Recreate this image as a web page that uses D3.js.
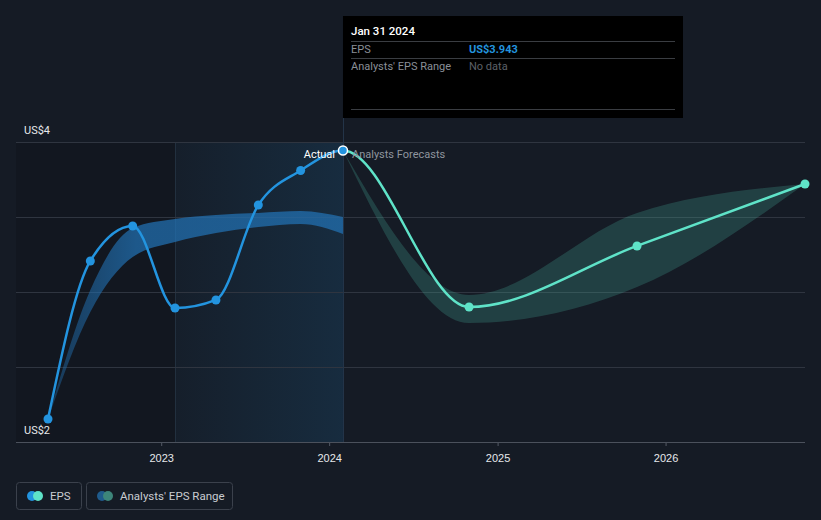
<!DOCTYPE html>
<html><head><meta charset="utf-8">
<script src="https://cdn.jsdelivr.net/npm/d3@7/dist/d3.min.js"></script>
<style>
html,body{margin:0;padding:0;background:#151b25;}
svg{display:block;font-family:Roboto,"Noto Sans",sans-serif;}
</style></head>
<body><svg id="c" width="821" height="520"></svg>
<script>
const actualDates = ["2022-04-30","2022-07-31","2022-10-31","2023-01-31","2023-04-30","2023-07-31","2023-10-31","2024-01-31"];
const actualEps = [2.153, 3.207, 3.44, 2.893, 2.947, 3.58, 3.81, 3.943];
const forecastDates = ["2024-10-31","2025-10-31","2026-10-31"];
const forecastEps = [2.9, 3.307, 3.72];
const pastRangeLow = [2.153, 2.867, 3.233, 3.333, 3.393, 3.433, 3.453, 3.387];
const pastRangeHigh = [2.153, 3.013, 3.427, 3.487, 3.513, 3.527, 3.54, 3.5];
const forecastRangeDates = ["2024-01-31","2024-10-31","2025-10-31","2026-10-31"];
const forecastRangeLow = [3.943, 2.793, 3.033, 3.72];
const forecastRangeHigh = [3.943, 2.98, 3.527, 3.72];
const yTickValues = [2, 4];
const yTickLabels = ["US$2", "US$4"];
const xTickYears = [2023, 2024, 2025, 2026];
const todayDate = "2024-01-31";
const lastYearDate = "2023-01-31";

const parse = d3.utcParse("%Y-%m-%d");
const svg = d3.select("#c");
const W = 821;

const x = d3.scaleUtc().domain([parse(actualDates[0]), parse(forecastDates[forecastDates.length-1])]).range([48, 805]);
const y = d3.scaleLinear().domain([2, 4]).range([442, 142]);

const defs = svg.append("defs");
const hg = defs.append("linearGradient").attr("id","hl").attr("x1","0").attr("x2","1").attr("y1","0").attr("y2","0");
hg.append("stop").attr("offset","0").attr("stop-color","#2394df").attr("stop-opacity",0.03);
hg.append("stop").attr("offset","1").attr("stop-color","#2394df").attr("stop-opacity",0.14);
const bg = defs.append("linearGradient").attr("id","bandBlue").attr("x1","0").attr("x2","1").attr("y1","0").attr("y2","0");
bg.append("stop").attr("offset","0").attr("stop-color","#2274b8").attr("stop-opacity",0.35);
bg.append("stop").attr("offset","0.3").attr("stop-color","#2274b8").attr("stop-opacity",0.7);
bg.append("stop").attr("offset","1").attr("stop-color","#2274b8").attr("stop-opacity",0.7);

const xToday = x(parse(todayDate)), xLast = x(parse(lastYearDate));
defs.append("clipPath").attr("id","past").append("rect").attr("x",0).attr("y",0).attr("width",xToday).attr("height",520);
defs.append("clipPath").attr("id","future").append("rect").attr("x",xToday).attr("y",0).attr("width",W-xToday).attr("height",520);

// background regions
svg.append("rect").attr("x",16).attr("y",142).attr("width",xLast-16).attr("height",300).attr("fill","#000").attr("opacity",0.12);
svg.append("rect").attr("x",xLast).attr("y",142).attr("width",xToday-xLast).attr("height",300).attr("fill","url(#hl)");
svg.append("line").attr("x1",xLast+0.5).attr("x2",xLast+0.5).attr("y1",142).attr("y2",442).attr("stroke","#22303f").attr("stroke-width",1);

// gridlines
const grid = d3.range(2, 4.01, 0.5);
svg.append("g").selectAll("line").data(grid.filter(v=>v>2)).join("line")
  .attr("x1",16).attr("x2",805).attr("y1",d=>Math.round(y(d))+0.5).attr("y2",d=>Math.round(y(d))+0.5)
  .attr("stroke","#2f3540").attr("stroke-width",1);

// today vertical line
svg.append("line").attr("x1",xToday+0.5).attr("x2",xToday+0.5).attr("y1",118).attr("y2",442).attr("stroke","#24364a").attr("stroke-width",1);

// x axis
const xAxis = d3.axisBottom(x).tickValues(xTickYears.map(yy=>new Date(Date.UTC(yy,0,1)))).tickFormat(d3.utcFormat("%Y")).tickSize(4).tickSizeOuter(0);
const ax = svg.append("g").attr("transform","translate(0,442)").call(xAxis);
ax.select(".domain").remove();
ax.selectAll(".tick line").attr("stroke","#555b66");
ax.selectAll(".tick text").attr("fill","#e6e8eb").attr("font-size",11).attr("dy","1.2em");
svg.append("line").attr("x1",16).attr("x2",805).attr("y1",442.5).attr("y2",442.5).attr("stroke","#4b515c").attr("stroke-width",1);

// y labels
svg.append("g").selectAll("text").data(yTickValues).join("text")
  .attr("x",24).attr("y",d=>y(d)-8).attr("fill","#e6e8eb").attr("font-size",11).text((d,i)=>yTickLabels[i]);

// bands
const pastBand = actualDates.map((d,i)=>({d:parse(d),lo:pastRangeLow[i],hi:pastRangeHigh[i]}));
const futBand = forecastRangeDates.map((d,i)=>({d:parse(d),lo:forecastRangeLow[i],hi:forecastRangeHigh[i]}));
const area = d3.area().x(d=>x(d.d)).y0(d=>y(d.lo)).y1(d=>y(d.hi)).curve(d3.curveMonotoneX);
svg.append("path").attr("d",area(pastBand)).attr("fill","url(#bandBlue)");
svg.append("path").attr("d",area(futBand)).attr("fill","#4cb8a4").attr("opacity",0.24);

// lines
const all = actualDates.map((d,i)=>({d:parse(d),v:actualEps[i]})).concat(forecastDates.map((d,i)=>({d:parse(d),v:forecastEps[i]})));
const line = d3.line().x(d=>x(d.d)).y(d=>y(d.v)).curve(d3.curveMonotoneX);
svg.append("path").attr("d",line(all)).attr("fill","none").attr("stroke","#2394df").attr("stroke-width",2.5).attr("clip-path","url(#past)");
svg.append("path").attr("d",line(all)).attr("fill","none").attr("stroke","#5fe3c8").attr("stroke-width",2.5).attr("clip-path","url(#future)");

// points
svg.append("g").selectAll("circle").data(all.slice(0, actualDates.length-1)).join("circle")
  .attr("cx",d=>x(d.d)).attr("cy",d=>y(d.v)).attr("r",4.5).attr("fill","#2394df");
svg.append("g").selectAll("circle").data(all.slice(actualDates.length)).join("circle")
  .attr("cx",d=>x(d.d)).attr("cy",d=>y(d.v)).attr("r",4.5).attr("fill","#5fe3c8");
const lastA = all[actualDates.length-1];
svg.append("circle").attr("cx",x(lastA.d)).attr("cy",y(lastA.v)).attr("r",4.5).attr("fill","#2394df").attr("stroke","#ffffff").attr("stroke-width",1.5);

// labels
svg.append("text").attr("x",xToday-8).attr("y",158).attr("text-anchor","end").attr("fill","#ffffff").attr("font-size",11).text("Actual");
svg.append("text").attr("x",xToday+9).attr("y",158).attr("fill","#8f959e").attr("font-size",11).text("Analysts Forecasts");

// tooltip
const tt = svg.append("g");
tt.append("rect").attr("x",xToday).attr("y",16).attr("width",340).attr("height",102).attr("fill","#000");
tt.append("text").attr("x",351).attr("y",35).attr("fill","#ffffff").attr("font-size",11.5).attr("font-weight",500).text("Jan 31 2024");
[41.5,58.5,109.5].forEach(yy=>tt.append("line").attr("x1",351).attr("x2",675).attr("y1",yy).attr("y2",yy).attr("stroke","#3a3d42"));
tt.append("text").attr("x",351).attr("y",53).attr("fill","#8a8f97").attr("font-size",11).text("EPS");
tt.append("text").attr("x",469).attr("y",53).attr("fill","#2394df").attr("font-size",11).attr("font-weight",700).text("US$" + actualEps[actualEps.length-1].toFixed(3));
tt.append("text").attr("x",351).attr("y",70).attr("fill","#8a8f97").attr("font-size",11).text("Analysts' EPS Range");
tt.append("text").attr("x",469).attr("y",70).attr("fill","#5d6168").attr("font-size",11).text("No data");

// legend
const lg = svg.append("g");
lg.append("rect").attr("x",16.5).attr("y",482.5).attr("width",65).attr("height",27).attr("rx",3).attr("fill","none").attr("stroke","#3b414c");
lg.append("circle").attr("cx",32).attr("cy",496).attr("r",5).attr("fill","#2394df");
lg.append("circle").attr("cx",38).attr("cy",496).attr("r",5).attr("fill","#5fe3c8");
lg.append("text").attr("x",50).attr("y",500).attr("fill","#c9ccd1").attr("font-size",11.5).text("EPS");
lg.append("rect").attr("x",86.5).attr("y",482.5).attr("width",146).attr("height",27).attr("rx",3).attr("fill","none").attr("stroke","#3b414c");
lg.append("circle").attr("cx",102).attr("cy",496).attr("r",5).attr("fill","#1f5b8c");
lg.append("circle").attr("cx",108).attr("cy",496).attr("r",5).attr("fill","#3d857a");
lg.append("text").attr("x",120).attr("y",500).attr("fill","#c9ccd1").attr("font-size",11.5).text("Analysts' EPS Range");
</script></body></html>
